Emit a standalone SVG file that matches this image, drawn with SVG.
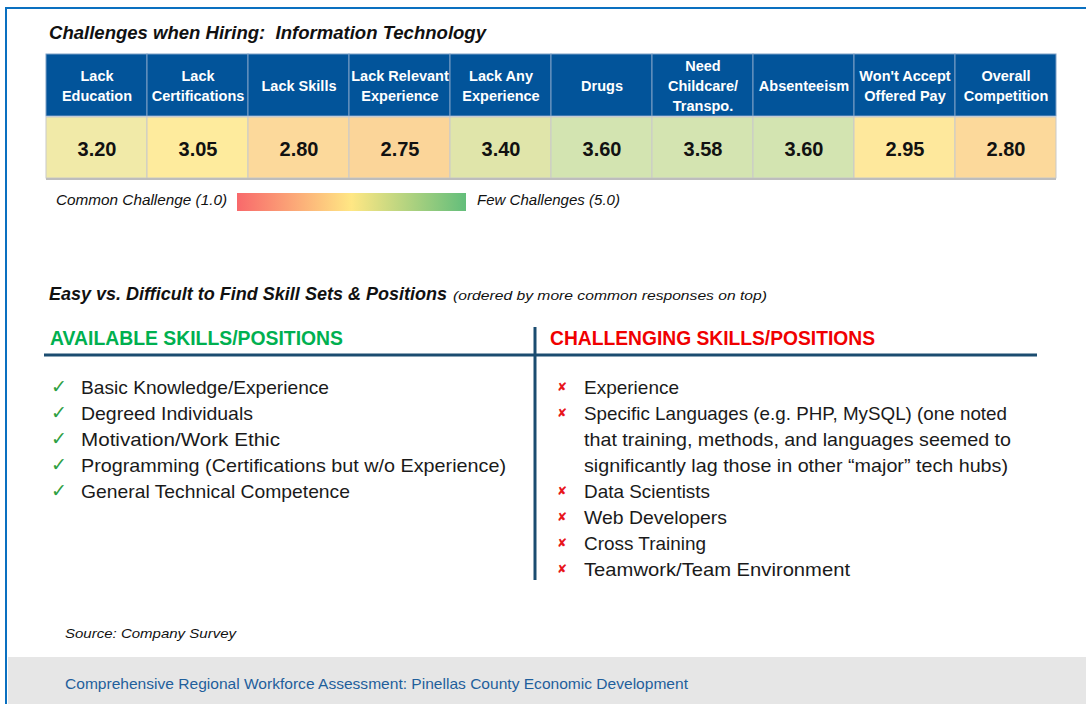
<svg xmlns="http://www.w3.org/2000/svg" width="1086" height="704" viewBox="0 0 1086 704">
<style>
text{font-family:"Liberation Sans",Arial,sans-serif}
.hd{font-weight:bold;font-size:14.5px;fill:#fff;text-anchor:middle}
.val{font-weight:bold;font-size:20px;fill:#111;text-anchor:middle}
.it{font-style:italic;fill:#111}
.li{font-size:19px;fill:#1a1a1a}
.ck{font-family:"DejaVu Sans",sans-serif;font-size:19px;fill:#2ea043}
.xm{font-family:"DejaVu Sans",sans-serif;font-size:12px;fill:#e8141b;font-weight:bold}
.cell{stroke:#c9c9c9;stroke-width:1}
.hcell{fill:#02549a;stroke:#7d9fc6;stroke-width:1}
</style>
<defs>
<linearGradient id="grad" x1="0" x2="1" y1="0" y2="0">
<stop offset="0" stop-color="#f8696b"/>
<stop offset="0.5" stop-color="#ffe784"/>
<stop offset="1" stop-color="#63be7b"/>
</linearGradient>
</defs>
<rect width="1086" height="704" fill="#fff"/>
<rect x="8" y="657" width="1078" height="47" fill="#e6e6e6"/>
<line x1="5" y1="8" x2="1086" y2="8" stroke="#0a70c0" stroke-width="2"/>
<line x1="6" y1="7" x2="6" y2="704" stroke="#0a70c0" stroke-width="2"/>

<text x="49" y="39" font-size="18" font-weight="bold" font-style="italic" fill="#111" textLength="437" lengthAdjust="spacingAndGlyphs" xml:space="preserve">Challenges when Hiring:  Information Technology</text>

<g id="table">
<g id="header">
<rect class="hcell" x="46" y="54" width="101" height="62"/>
<rect class="hcell" x="147" y="54" width="101" height="62"/>
<rect class="hcell" x="248" y="54" width="101" height="62"/>
<rect class="hcell" x="349" y="54" width="101" height="62"/>
<rect class="hcell" x="450" y="54" width="101" height="62"/>
<rect class="hcell" x="551" y="54" width="101" height="62"/>
<rect class="hcell" x="652" y="54" width="101" height="62"/>
<rect class="hcell" x="753" y="54" width="101" height="62"/>
<rect class="hcell" x="854" y="54" width="101" height="62"/>
<rect class="hcell" x="955" y="54" width="101" height="62"/>
<text class="hd" x="97" y="81">Lack</text><text class="hd" x="97" y="101">Education</text>
<text class="hd" x="198" y="81">Lack</text><text class="hd" x="198" y="101">Certifications</text>
<text class="hd" x="299" y="91">Lack Skills</text>
<text class="hd" x="400" y="81">Lack Relevant</text><text class="hd" x="400" y="101">Experience</text>
<text class="hd" x="501" y="81">Lack Any</text><text class="hd" x="501" y="101">Experience</text>
<text class="hd" x="602" y="91">Drugs</text>
<text class="hd" x="703" y="71">Need</text><text class="hd" x="703" y="91">Childcare/</text><text class="hd" x="703" y="111">Transpo.</text>
<text class="hd" x="804" y="91">Absenteeism</text>
<text class="hd" x="905" y="81">Won't Accept</text><text class="hd" x="905" y="101">Offered Pay</text>
<text class="hd" x="1006" y="81">Overall</text><text class="hd" x="1006" y="101">Competition</text>
</g>
<g id="values">
<rect class="cell" x="46" y="117" width="101" height="61" fill="#f1eaa8"/>
<rect class="cell" x="147" y="117" width="101" height="61" fill="#feeb9d"/>
<rect class="cell" x="248" y="117" width="101" height="61" fill="#fcd99b"/>
<rect class="cell" x="349" y="117" width="101" height="61" fill="#fbd599"/>
<rect class="cell" x="450" y="117" width="101" height="61" fill="#e0e5aa"/>
<rect class="cell" x="551" y="117" width="101" height="61" fill="#d3e4b1"/>
<rect class="cell" x="652" y="117" width="101" height="61" fill="#d4e4b1"/>
<rect class="cell" x="753" y="117" width="101" height="61" fill="#d3e4b1"/>
<rect class="cell" x="854" y="117" width="101" height="61" fill="#fee89c"/>
<rect class="cell" x="955" y="117" width="101" height="61" fill="#fcd99b"/>
<line x1="46" y1="179" x2="1056" y2="179" stroke="#bdbdbd" stroke-width="2"/>
<text class="val" x="97" y="156">3.20</text>
<text class="val" x="198" y="156">3.05</text>
<text class="val" x="299" y="156">2.80</text>
<text class="val" x="400" y="156">2.75</text>
<text class="val" x="501" y="156">3.40</text>
<text class="val" x="602" y="156">3.60</text>
<text class="val" x="703" y="156">3.58</text>
<text class="val" x="804" y="156">3.60</text>
<text class="val" x="905" y="156">2.95</text>
<text class="val" x="1006" y="156">2.80</text>
</g>
</g>

<g id="legend">
<text class="it" x="56" y="205" font-size="14" textLength="171" lengthAdjust="spacingAndGlyphs">Common Challenge (1.0)</text>
<rect x="237" y="193" width="229" height="18" fill="url(#grad)"/>
<text class="it" x="477" y="205" font-size="14" textLength="143" lengthAdjust="spacingAndGlyphs">Few Challenges (5.0)</text>
</g>

<text x="49" y="300" font-size="18" font-weight="bold" font-style="italic" fill="#111" textLength="398" lengthAdjust="spacingAndGlyphs">Easy vs. Difficult to Find Skill Sets &amp; Positions</text>
<text x="453" y="300" font-size="13" font-style="italic" fill="#111" textLength="314" lengthAdjust="spacingAndGlyphs">(ordered by more common responses on top)</text>

<g id="divider">
<line x1="44" y1="355" x2="1037" y2="355" stroke="#1b4c70" stroke-width="3"/>
<line x1="535" y1="327" x2="535" y2="580" stroke="#1b4c70" stroke-width="3"/>
</g>

<g id="available">
<text x="50" y="345" font-size="20" font-weight="bold" fill="#00b050" textLength="293" lengthAdjust="spacingAndGlyphs">AVAILABLE SKILLS/POSITIONS</text>
<text class="ck" x="51" y="393">✓</text><text class="li" x="81" y="394" textLength="248" lengthAdjust="spacingAndGlyphs">Basic Knowledge/Experience</text>
<text class="ck" x="51" y="419">✓</text><text class="li" x="81" y="420" textLength="172" lengthAdjust="spacingAndGlyphs">Degreed Individuals</text>
<text class="ck" x="51" y="445">✓</text><text class="li" x="81" y="446" textLength="199" lengthAdjust="spacingAndGlyphs">Motivation/Work Ethic</text>
<text class="ck" x="51" y="471">✓</text><text class="li" x="81" y="472" textLength="425" lengthAdjust="spacingAndGlyphs">Programming (Certifications but w/o Experience)</text>
<text class="ck" x="51" y="497">✓</text><text class="li" x="81" y="498" textLength="269" lengthAdjust="spacingAndGlyphs">General Technical Competence</text>
</g>

<g id="challenging">
<text x="550" y="345" font-size="20" font-weight="bold" fill="#f00000" textLength="325" lengthAdjust="spacingAndGlyphs">CHALLENGING SKILLS/POSITIONS</text>
<text class="xm" x="557" y="391">✘</text><text class="li" x="584" y="394" textLength="95" lengthAdjust="spacingAndGlyphs">Experience</text>
<text class="xm" x="557" y="417">✘</text><text class="li" x="584" y="420" textLength="423" lengthAdjust="spacingAndGlyphs">Specific Languages (e.g. PHP, MySQL) (one noted</text>
<text class="li" x="584" y="446" textLength="427" lengthAdjust="spacingAndGlyphs">that training, methods, and languages seemed to</text>
<text class="li" x="584" y="472" textLength="424" lengthAdjust="spacingAndGlyphs">significantly lag those in other “major” tech hubs)</text>
<text class="xm" x="557" y="495">✘</text><text class="li" x="584" y="498" textLength="126" lengthAdjust="spacingAndGlyphs">Data Scientists</text>
<text class="xm" x="557" y="521">✘</text><text class="li" x="584" y="524" textLength="143" lengthAdjust="spacingAndGlyphs">Web Developers</text>
<text class="xm" x="557" y="547">✘</text><text class="li" x="584" y="550" textLength="122" lengthAdjust="spacingAndGlyphs">Cross Training</text>
<text class="xm" x="557" y="573">✘</text><text class="li" x="584" y="576" textLength="266" lengthAdjust="spacingAndGlyphs">Teamwork/Team Environment</text>
</g>

<text class="it" x="65" y="638" font-size="13" textLength="171" lengthAdjust="spacingAndGlyphs">Source: Company Survey</text>
<text x="65" y="689" font-size="15" fill="#1f5f9c" textLength="623" lengthAdjust="spacingAndGlyphs">Comprehensive Regional Workforce Assessment: Pinellas County Economic Development</text>
</svg>
